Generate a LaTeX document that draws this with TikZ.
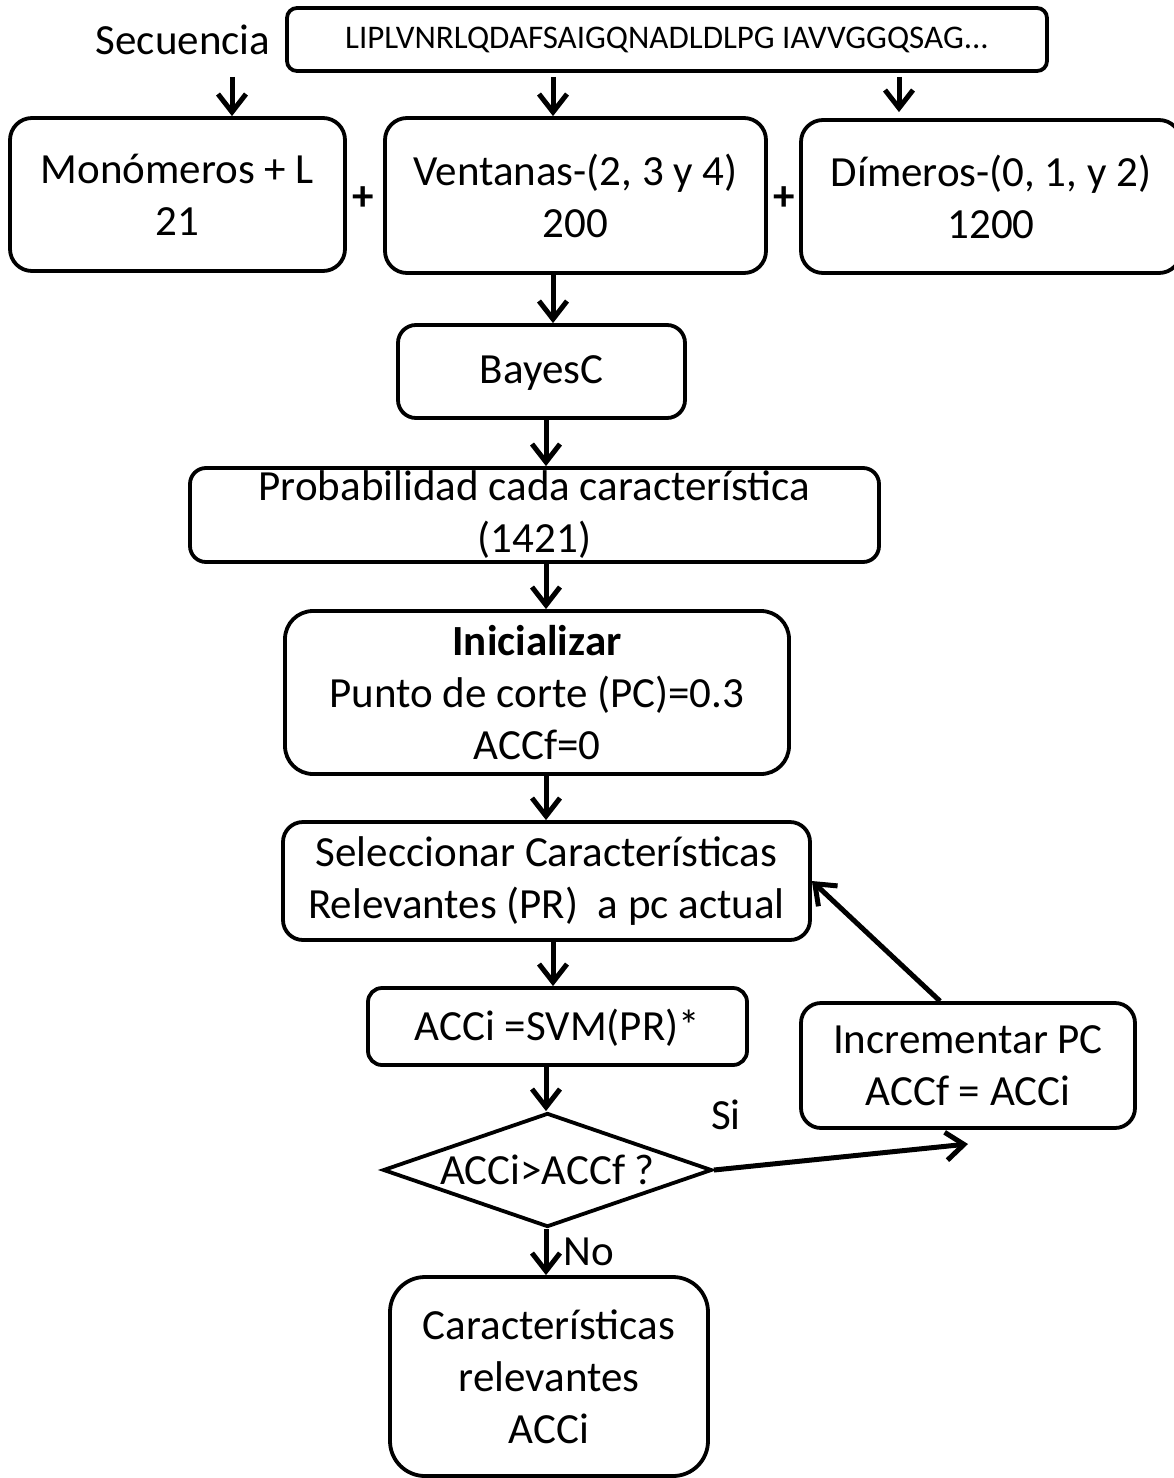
\documentclass[tikz,border=0pt]{standalone}
\usepackage{fontspec}
\setmainfont{Carlito}
\usetikzlibrary{arrows.meta,shapes.geometric}
\newcommand\mainfs{\fontsize{43}{52}\selectfont}
\newcommand\seqfs{\fontsize{33}{38}\selectfont}
\begin{document}
\begin{tikzpicture}[x=1pt,y=-1pt,
  box/.style={draw,line width=3.8pt,rounded corners=22pt,inner sep=0pt,align=center,font=\mainfs},
  lbl/.style={inner sep=0pt,font=\mainfs},
  plus/.style={inner sep=0pt,font=\mainfs\bfseries},
  dia/.style={draw,line width=3.8pt,shape=diamond,aspect=2.9,inner sep=0pt,minimum width=329pt,minimum height=114pt,font=\mainfs},
  arrline/.style={line width=5pt,line cap=butt},
  arr/.style={arrline,-{Straight Barb[length=18pt,width=28pt,line width=5pt]}}]
\useasboundingbox (0,0) rectangle (1173,1478);
\node[box,rounded corners=10pt,minimum width=760pt,minimum height=63pt] (seq) at (667,39.5) {\seqfs LIPLVNRLQDAFSAIGQNADLDLPG IAVVGGQSAG...};
\node[lbl] (seclbl) at (183,40) {Secuencia};
\node[box,minimum width=335pt,minimum height=153pt] (mono) at (177.5,194.5) {Monómeros + L\\21};
\node[box,minimum width=381pt,minimum height=155pt] (vent) at (575.5,195.5) {Ventanas-(2, 3 y 4)\\200};
\node[box,minimum width=380pt,minimum height=153pt] (dim) at (991,196.5) {Dímeros-(0, 1, y 2)\\1200};
\node[plus] (p1) at (363,199) {+};
\node[plus] (p2) at (784,199) {+};
\node[box,rounded corners=18pt,minimum width=287pt,minimum height=93pt,text depth=4pt] (bayes) at (541.5,371.5) {BayesC};
\node[box,rounded corners=16pt,minimum width=689pt,minimum height=94pt] (prob) at (534.5,515) {Probabilidad cada característica\\(1421)};
\node[box,rounded corners=28pt,minimum width=504pt,minimum height=163pt] (init) at (537,692.5) {\textbf{Inicializar}\\Punto de corte (PC)=0.3\\ACCf=0};
\node[box,rounded corners=20pt,minimum width=527pt,minimum height=118pt] (sel) at (546.5,881) {Seleccionar Características\\Relevantes (PR)\ \ a pc actual};
\node[box,rounded corners=14pt,minimum width=379pt,minimum height=77pt,text depth=4pt] (acci) at (557.5,1026.5) {ACCi =SVM(PR)*};
\node[dia] (cmp) at (547.5,1170) {ACCi>ACCf ?};
\node[box,rounded corners=35pt,minimum width=318pt,minimum height=199pt] (fin) at (549,1376.5) {Características\\relevantes\\ACCi};
\node[box,rounded corners=20pt,minimum width=334pt,minimum height=125pt] (inc) at (968,1065.5) {Incrementar PC\\ACCf = ACCi};
\node[lbl] (si) at (726,1115) {Si};
\node[lbl] (no) at (589,1252) {No};
\coordinate (siend) at (968,1144);
\coordinate (xa) at (232,0);
\coordinate (xb) at (553,0);
\coordinate (xc) at (899,0);
\coordinate (xd) at (546,0);
\coordinate (xe) at (940,0);
\draw[arr] ([yshift=-4pt]seq.south -| xa) -- (mono.north -| xa);
\draw[arr] ([yshift=-4pt]seq.south -| xb) -- (vent.north -| xb);
\draw[arr] ([yshift=-4pt]seq.south -| xc) -- ([yshift=6pt]dim.north -| xc);
\draw[arr] (vent.south -| xb) -- (bayes.north -| xb);
\draw[arr] (bayes.south -| xd) -- (prob.north -| xd);
\draw[arr] (prob.south -| xd) -- (init.north -| xd);
\draw[arr] (init.south -| xd) -- (sel.north -| xd);
\draw[arr] (sel.south -| xb) -- (acci.north -| xb);
\draw[arr] (acci.south -| xd) -- (cmp.north -| xd);
\draw[arr] (cmp.south -| xd) -- (fin.north -| xd);
\draw[arr] (cmp.east) -- (siend);
\draw[arr] (inc.north -| xe) -- (sel.east);
\end{tikzpicture}
\end{document}
